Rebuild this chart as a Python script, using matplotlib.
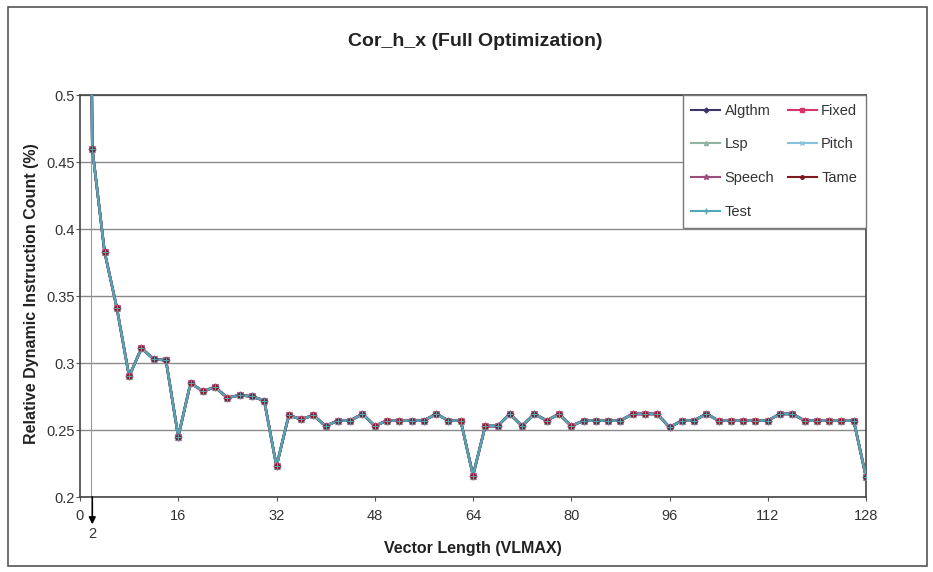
import matplotlib.pyplot as plt
from matplotlib.lines import Line2D
from matplotlib.patches import Rectangle

plt.rcParams['font.family'] = ['Liberation Sans', 'DejaVu Sans']

series = ["Algthm", "Fixed", "Lsp", "Pitch", "Speech", "Tame", "Test"]
# vector lengths: 1 then every even value up to 128
vlmax = [1] + list(range(2, 129, 2))
# same relative count for every benchmark (all lines overlap in the chart)
rel_count = [
    1.000, 0.460, 0.383, 0.341, 0.290, 0.311, 0.303, 0.302, 0.245,   # 1..16
    0.285, 0.279, 0.282, 0.274, 0.276, 0.275, 0.272, 0.223,          # 18..32
    0.261, 0.258, 0.261, 0.253, 0.257, 0.257, 0.262, 0.253,          # 34..48
    0.257, 0.257, 0.257, 0.257, 0.262, 0.257, 0.257, 0.216,          # 50..64
    0.253, 0.253, 0.262, 0.253, 0.262, 0.257, 0.262, 0.253,          # 66..80
    0.257, 0.257, 0.257, 0.257, 0.262, 0.262, 0.262, 0.252,          # 82..96
    0.257, 0.257, 0.262, 0.257, 0.257, 0.257, 0.257, 0.257,          # 98..112
    0.262, 0.262, 0.257, 0.257, 0.257, 0.257, 0.257, 0.215,          # 114..128
]
x_ticks = [0, 16, 32, 48, 64, 80, 96, 112, 128]
y_ticks = [0.2, 0.25, 0.3, 0.35, 0.4, 0.45, 0.5]

colors = ["#3c3566", "#d8336c", "#93b3a2", "#86c2dc", "#9c4d80", "#7d1a22", "#52a6b6"]
markers = ["D", "s", "^", "x", "*", "o", "+"]
msizes = [3.5, 4.5, 4, 4, 5, 3.5, 5]

fig = plt.figure(figsize=(9.33, 5.72), dpi=100)
fig.patches.append(Rectangle((8 / 933, 1 - 566 / 572), 919 / 933, 559 / 572,
                             transform=fig.transFigure, fill=False,
                             edgecolor="#555555", linewidth=1.2))
ax = fig.add_axes([80 / 933, 1 - 497 / 572, 786 / 933, 402 / 572])

# lines first, then markers on top (like the original chart)
for c in colors:
    ax.plot(vlmax, rel_count, color=c, linewidth=1.8, zorder=3)
for c, m, s in zip(colors, markers, msizes):
    ax.plot(vlmax, rel_count, linestyle="none", marker=m, markersize=s,
            color=c, markeredgewidth=0.8, zorder=4)

ax.axvline(1.75, color="#999999", linewidth=0.8, zorder=2)
ax.annotate("", xy=(2, -0.068), xycoords=("data", "axes fraction"),
            xytext=(2, 0.0), textcoords=("data", "axes fraction"),
            arrowprops=dict(arrowstyle="-|>", color="black", lw=1.2,
                            shrinkA=0, shrinkB=0, mutation_scale=10),
            annotation_clip=False)
ax.text(2, -0.075, "2", transform=ax.get_xaxis_transform(), ha="center",
        va="top", fontsize=10.5, color="#333333")

ax.set_xlim(0, 128)
ax.set_ylim(0.2, 0.5)
ax.set_xticks(x_ticks)
ax.set_yticks(y_ticks)
ax.set_yticklabels([f"{v:g}" for v in y_ticks])
ax.tick_params(axis="both", labelsize=10.5, labelcolor="#333333",
               color="#555555", length=3, pad=6)
ax.tick_params(axis="y", pad=1)
ax.grid(axis="y", color="#8a8a8a", linewidth=1)
ax.set_axisbelow(True)
for sp in ax.spines.values():
    sp.set_color("#444444")
    sp.set_linewidth(1.2)

handles = [Line2D([], [], color=c, marker=m, markersize=s - 1, linewidth=1.5)
           for c, m, s in zip(colors, markers, msizes)]
order = [0, 2, 4, 6, 1, 3, 5]
leg = ax.legend([handles[i] for i in order], [series[i] for i in order],
                ncol=2, loc="upper right", bbox_to_anchor=(1, 1),
                borderaxespad=0, fancybox=False, fontsize=10.5,
                labelspacing=1.35, handlelength=2.0, handletextpad=0.3,
                columnspacing=0.9, borderpad=0.6, framealpha=1)
leg.get_frame().set_edgecolor("#777777")
leg.get_frame().set_linewidth(1)
for t in leg.get_texts():
    t.set_color("#333333")

fig.text(475 / 933, 1 - 42 / 572, "Cor_h_x (Full Optimization)", ha="center",
         va="center", fontsize=14, fontweight="bold", color="#222222")
fig.text(473 / 933, 1 - 549 / 572, "Vector Length (VLMAX)", ha="center",
         va="center", fontsize=11.5, fontweight="bold", color="#222222")
fig.text(32 / 933, 1 - 294 / 572, "Relative Dynamic Instruction Count (%)",
         ha="center", va="center", rotation=90, fontsize=11.5,
         fontweight="bold", color="#222222")

fig.savefig("out.png", dpi=100)
